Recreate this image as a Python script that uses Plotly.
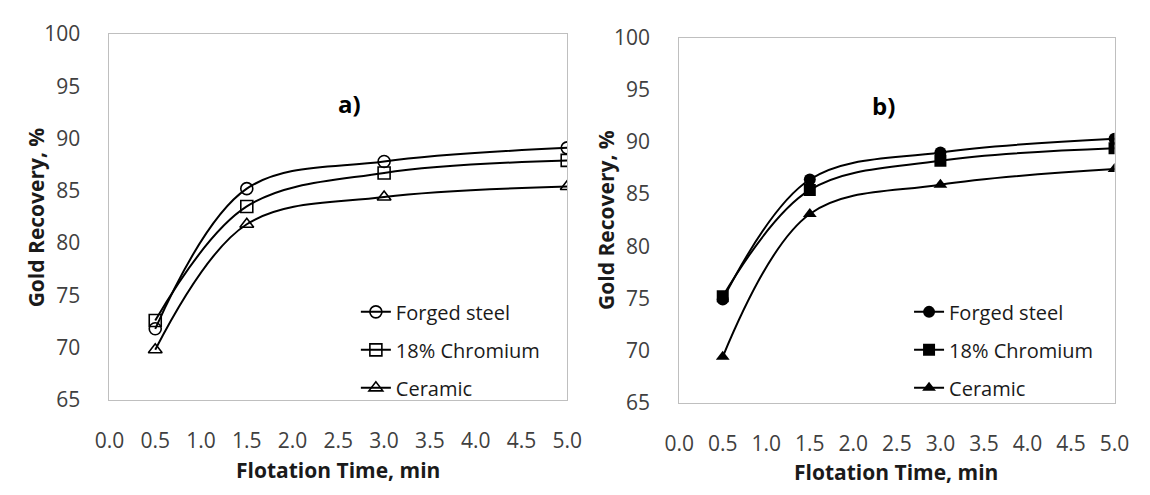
import plotly.graph_objects as go

# Flotation time (min)
time_min = [0.5, 1.5, 3.0, 5.0]

# a) gold recovery, %
a_forged = [71.8, 85.2, 87.8, 89.1]
a_chromium = [72.6, 83.5, 86.7, 87.9]
a_ceramic = [69.8, 81.8, 84.4, 85.4]

# b) gold recovery, %
b_forged = [74.9, 86.4, 89.0, 90.3]
b_chromium = [75.2, 85.4, 88.2, 89.4]
b_ceramic = [69.4, 83.1, 85.9, 87.4]

series_names = ["Forged steel", "18% Chromium", "Ceramic"]
x_ticks = [0.0, 0.5, 1.0, 1.5, 2.0, 2.5, 3.0, 3.5, 4.0, 4.5, 5.0]
y_ticks = [65, 70, 75, 80, 85, 90, 95, 100]

FONT = "Open Sans"
W, H = 1150, 495

fig = go.Figure()

open_symbols = ["circle-open", "square-open", "triangle-up-open"]
solid_symbols = ["circle", "square", "triangle-up"]

for i, (name, ys, sym) in enumerate(zip(series_names, [a_forged, a_chromium, a_ceramic], open_symbols)):
    fig.add_trace(go.Scatter(
        x=time_min, y=ys, name=name, mode="lines+markers",
        line=dict(color="black", width=2, shape="spline", smoothing=1.0),
        marker=dict(symbol=sym, size=12, color="black", line=dict(color="black", width=1.6)),
        xaxis="x", yaxis="y", legend="legend", legendgroup=f"a{i}",
    ))

for i, (name, ys, sym) in enumerate(zip(series_names, [b_forged, b_chromium, b_ceramic], solid_symbols)):
    fig.add_trace(go.Scatter(
        x=time_min, y=ys, name=name, mode="lines+markers",
        line=dict(color="black", width=2, shape="spline", smoothing=1.0),
        marker=dict(symbol=sym, size=12, color="black"),
        xaxis="x2", yaxis="y2", legend="legend2", legendgroup=f"b{i}",
    ))

# plot-area boxes in pixels
left_box = dict(x0=97, x1=567, y0=20, y1=408)
right_box = dict(x0=682, x1=1129, y0=24, y1=411)


def xdom(b):
    return [b["x0"] / W, b["x1"] / W]


def ydom(b):
    return [1 - b["y1"] / H, 1 - b["y0"] / H]


axis_common = dict(
    showgrid=False, zeroline=False, showline=True, mirror=True,
    linecolor="#BFBFBF", linewidth=1, ticks="",
    tickfont=dict(family=FONT, size=21, color="#404040"),
)

legend_common = dict(
    xanchor="left", yanchor="top", bgcolor="rgba(0,0,0,0)",
    font=dict(family=FONT, size=20, color="#1a1a1a"),
    itemwidth=30, tracegroupgap=9, traceorder="grouped",
)

fig.update_layout(
    width=W, height=H,
    margin=dict(l=0, r=0, t=0, b=0),
    paper_bgcolor="white", plot_bgcolor="white",
    font=dict(family=FONT, color="black"),
    xaxis=dict(domain=xdom(left_box), range=[0, 5], tickvals=x_ticks,
               ticktext=[f"{v:.1f}" for v in x_ticks], ticklabelstandoff=22,
               anchor="y", **axis_common),
    yaxis=dict(domain=ydom(left_box), range=[65, 100], tickvals=y_ticks,
               ticklabelstandoff=24, anchor="x", **axis_common),
    xaxis2=dict(domain=xdom(right_box), range=[0, 5], tickvals=x_ticks,
                ticktext=[f"{v:.1f}" for v in x_ticks], ticklabelstandoff=22,
                anchor="y2", **axis_common),
    yaxis2=dict(domain=ydom(right_box), range=[65, 100], tickvals=y_ticks,
                ticklabelstandoff=24, anchor="x2", **axis_common),
    legend=dict(x=350 / W, y=1 - 294 / H, **legend_common),
    legend2=dict(x=918 / W, y=1 - 294 / H, **legend_common),
    showlegend=True,
)

annotations = [
    dict(text="<b>a)</b>", x=330 / W, y=1 - 74 / H),
    dict(text="<b>b)</b>", x=906 / W, y=1 - 76 / H),
]
for a in annotations:
    fig.add_annotation(xref="paper", yref="paper", showarrow=False,
                       font=dict(family=FONT, size=24, color="black"), **a)

titles = [
    dict(text="<b>Flotation Time, min</b>", x=332 / W, y=1 - 482 / H, textangle=0),
    dict(text="<b>Flotation Time, min</b>", x=905 / W, y=1 - 484 / H, textangle=0),
    dict(text="<b>Gold Recovery, %</b>", x=21 / W, y=1 - 214 / H, textangle=-90),
    dict(text="<b>Gold Recovery, %</b>", x=607 / W, y=1 - 217 / H, textangle=-90),
]
for t in titles:
    fig.add_annotation(xref="paper", yref="paper", showarrow=False,
                       xanchor="center", yanchor="middle",
                       font=dict(family=FONT, size=21, color="#1a1a1a"), **t)

fig.write_html("out.html")
